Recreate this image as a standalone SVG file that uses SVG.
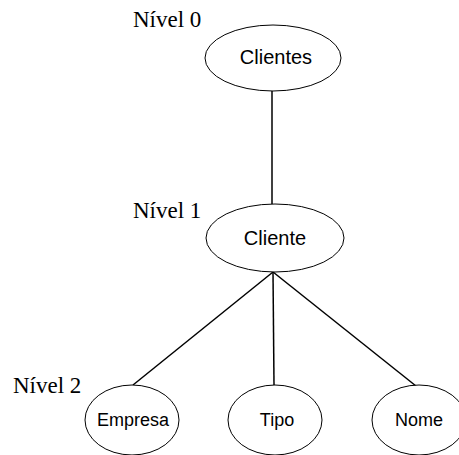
<svg xmlns="http://www.w3.org/2000/svg" width="459" height="455" viewBox="0 0 459 455">
<style>
.n{fill:#fff;stroke:#000;stroke-width:1}
.t{font-family:"Liberation Sans",Arial,sans-serif;font-size:18px;text-anchor:middle;fill:#000}
.big{font-size:20px}
.lv{font-family:"Liberation Serif","Times New Roman",serif;font-size:23px;fill:#000}
.c{stroke:#000;stroke-width:1.5;fill:none}
</style>
<rect width="459" height="455" fill="#fff"/>
<g id="connectors">
<line class="c" x1="272" y1="91" x2="272" y2="204"/>
<line class="c" x1="273" y1="272" x2="133" y2="385"/>
<line class="c" x1="273" y1="272" x2="274" y2="385"/>
<line class="c" x1="273" y1="272" x2="416" y2="386"/>
</g>
<text class="lv" x="133" y="27">Nível 0</text>
<text class="lv" x="133" y="218">Nível 1</text>
<text class="lv" x="13" y="393">Nível 2</text>
<g id="clientes"><ellipse class="n" cx="273" cy="58" rx="68" ry="33"/><text class="t big" x="276" y="64">Clientes</text></g>
<g id="cliente"><ellipse class="n" cx="275" cy="238" rx="69" ry="34"/><text class="t big" x="275" y="245">Cliente</text></g>
<g id="empresa"><ellipse class="n" cx="132" cy="420" rx="47" ry="35"/><text class="t" x="133" y="426">Empresa</text></g>
<g id="tipo"><ellipse class="n" cx="275" cy="420" rx="47" ry="35"/><text class="t" x="277" y="426">Tipo</text></g>
<g id="nome"><ellipse class="n" cx="419" cy="420" rx="47" ry="35"/><text class="t" x="419" y="426">Nome</text></g>
</svg>
